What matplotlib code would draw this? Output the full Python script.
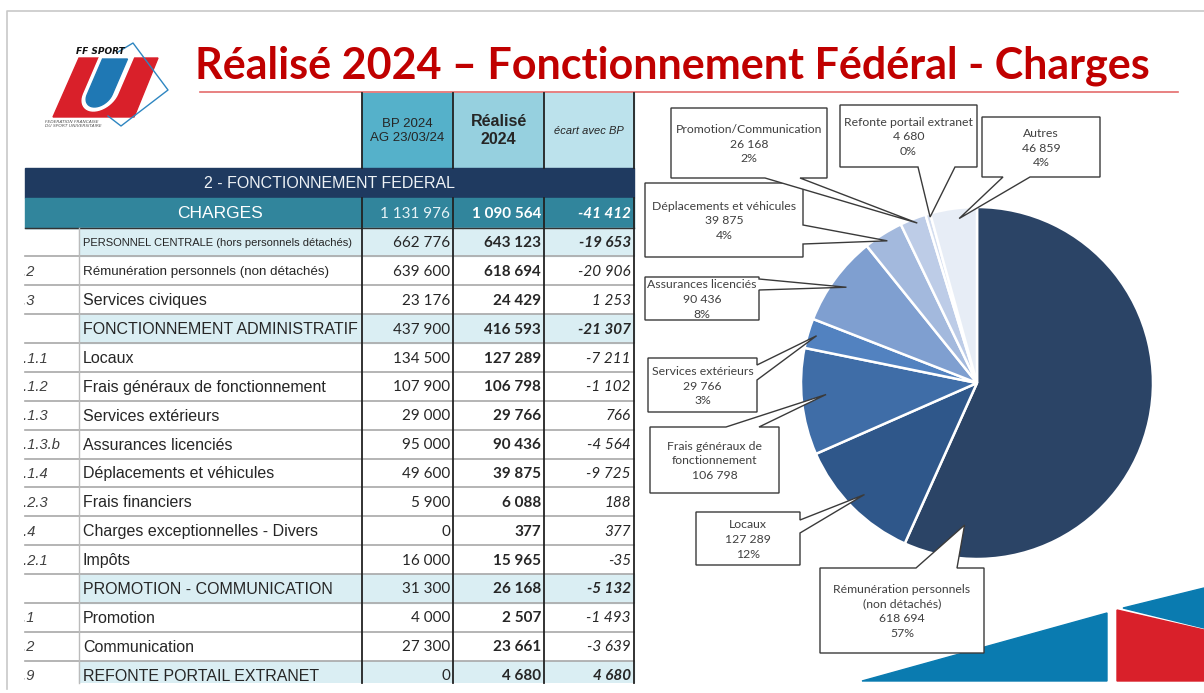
import matplotlib.pyplot as plt
from matplotlib.patches import Rectangle, Polygon
from matplotlib.transforms import Bbox
import numpy as np

W, H = 1204, 693

# ---- table data ----
row_labels = ["PERSONNEL CENTRALE (hors personnels détachés)",
              "Rémunération personnels (non détachés)",
              "Services civiques",
              "FONCTIONNEMENT ADMINISTRATIF",
              "Locaux",
              "Frais généraux de fonctionnement",
              "Services extérieurs",
              "Assurances licenciés",
              "Déplacements et véhicules",
              "Frais financiers",
              "Charges exceptionnelles - Divers",
              "Impôts",
              "PROMOTION - COMMUNICATION",
              "Promotion",
              "Communication",
              "REFONTE PORTAIL EXTRANET"]
row_codes = ["", "1.2", "1.3", "", "2.1.1", "2.1.2", "2.1.3", "2.1.3.b", "2.1.4",
             "2.2.3", "2.4", "2.2.1", "", "3.1", "3.2", "3.9"]
row_section = [True, False, False, True, False, False, False, False, False,
               False, False, False, True, False, False, True]
bp_2024 = [662776, 639600, 23176, 437900, 134500, 107900, 29000, 95000, 49600,
           5900, 0, 16000, 31300, 4000, 27300, 0]
realise_2024 = [643123, 618694, 24429, 416593, 127289, 106798, 29766, 90436, 39875,
                6088, 377, 15965, 26168, 2507, 23661, 4680]
charges_bp = 1131976
charges_realise = 1090564

# ---- pie data ----
pie_labels = ["Rémunération personnels\n(non détachés)", "Locaux",
              "Frais généraux de\nfonctionnement", "Services extérieurs",
              "Assurances licenciés", "Déplacements et véhicules",
              "Promotion/Communication", "Refonte portail extranet", "Autres"]
pie_values = [618694, 127289, 106798, 29766, 90436, 39875, 26168, 4680, 46859]
pie_colors = ["#2B4466", "#2F578A", "#3F6DA7", "#5282C0", "#7F9FD0",
              "#A3B9DD", "#BDCCE7", "#D3DDEF", "#E7EDF6"]


def fmt(v):
    return f"{v:,}".replace(",", " ")


fig = plt.figure(figsize=(W / 100, H / 100), dpi=100)
ax = fig.add_axes([0, 0, 1, 1])
ax.set_xlim(0, W)
ax.set_ylim(H, 0)
ax.axis("off")

# slide frame
ax.plot([7, 7, W], [689, 11, 11], color="#C8C8C8", lw=1.2)

# ---- title ----
ax.text(672, 78, "Réalisé 2024 – Fonctionnement Fédéral - Charges", ha="center",
        va="baseline", fontsize=31, fontweight="bold", family="Lato", color="#C00000")
ax.plot([200, 1178], [92, 92], color="#E46C6C", lw=1.2)


# ---- logo ----
def u_shape(xc, ytop, ybot, w, skew, n=24):
    rr = w / 2
    yc = ybot - rr
    pts = [(xc - rr, ytop)]
    for a in np.linspace(np.pi, 0, n):
        pts.append((xc + rr * np.cos(a), yc + rr * np.sin(a)))
    pts.append((xc + rr, ytop))
    return [(x - skew * (y - ytop), y) for x, y in pts]


ax.plot([118, 133, 168, 121, 108], [52, 43, 90, 126, 116], color="#2E86C1", lw=1)
ax.add_patch(Polygon([(79, 58), (158, 58), (134, 117), (53, 117)], color="#D9202A"))
ax.add_patch(Polygon(u_shape(117, 56, 111, 34, 0.43), color="white"))
ax.add_patch(Polygon(u_shape(115, 59, 107, 25, 0.43), color="#1F78B4"))
ax.text(100, 54, "FF SPORT", ha="center", va="baseline", fontsize=6.5,
        fontweight="bold", style="italic", color="#111111")
ax.text(45, 124, "FEDERATION FRANCAISE\nDU SPORT UNIVERSITAIRE", ha="left",
        va="center", fontsize=3.2, style="italic", color="#555555", linespacing=1.0)

# ---- table ----
x_code, x_lab, x_bp, x_re, x_ec, x_end = 25, 79, 362, 453, 544, 634
y_head, y_navy, y_chg, y_row0 = 93, 168, 198, 227.6
rh = 28.87
y_bot = 683
num_font = "Lato"
txt_font = "Liberation Sans"
dark = "#262626"

clip = Rectangle((0, 0), W, y_bot, transform=ax.transData)

ax.add_patch(Rectangle((x_bp, y_head), x_re - x_bp, y_navy - y_head, color="#55B1CA"))
ax.add_patch(Rectangle((x_re, y_head), x_ec - x_re, y_navy - y_head, color="#96D0DF"))
ax.add_patch(Rectangle((x_ec, y_head), x_end - x_ec, y_navy - y_head, color="#BCE2EC"))
ax.text((x_bp + x_re) / 2, 131, "BP 2024\nAG 23/03/24", ha="center", va="center",
        fontsize=9.5, family=txt_font, color=dark, linespacing=1.3)
ax.text((x_re + x_ec) / 2, 131, "Réalisé\n2024", ha="center", va="center",
        fontsize=11.5, fontweight="bold", family=txt_font, color=dark, linespacing=1.25)
ax.text((x_ec + x_end) / 2, 131, "écart avec BP", ha="center", va="center",
        fontsize=8, style="italic", family=txt_font, color=dark)

ax.add_patch(Rectangle((x_code, y_navy), x_end - x_code, y_chg - y_navy, color="#1F3A60"))
ax.text(330, (y_navy + y_chg) / 2 + 1, "2 - FONCTIONNEMENT FEDERAL", ha="center",
        va="center", fontsize=11.5, family=txt_font, color="#EEF2F6")
ax.add_patch(Rectangle((x_code, y_chg), x_end - x_code, y_row0 - y_chg, color="#31859C"))
ax.text((x_lab + x_bp) / 2, (y_chg + y_row0) / 2 + 1, "CHARGES", ha="center",
        va="center", fontsize=12.5, family=txt_font, color="white")
yc = (y_chg + y_row0) / 2 + 1
ax.text(x_re - 3, yc, fmt(charges_bp), ha="right", va="center", fontsize=11,
        family=num_font, color="#E6F3F7")
ax.text(x_ec - 3, yc, fmt(charges_realise), ha="right", va="center", fontsize=11,
        family=num_font, fontweight="bold", color="white")
ax.text(x_end - 3, yc, fmt(charges_realise - charges_bp), ha="right", va="center",
        fontsize=11, family=num_font, fontweight="bold", style="italic", color="white")

for i, lab in enumerate(row_labels):
    top = y_row0 + i * rh
    yc = top + rh / 2 + 1
    if row_section[i]:
        p = ax.add_patch(Rectangle((x_lab, top), x_end - x_lab, rh, color="#DAEEF3"))
        p.set_clip_path(clip)
    if i == 0:
        fs = 8
    elif i == 1:
        fs = 9.6
    else:
        fs = 11.5
    ax.text(x_lab + 4, yc, lab, ha="left", va="center", fontsize=fs,
            family=txt_font, color=dark)
    if row_codes[i]:
        t = ax.text(15, yc, row_codes[i], ha="left", va="center", fontsize=10.5,
                    family=txt_font, style="italic", color="#404040")
        t.set_clip_box(Bbox.from_extents(24, 0, 78, H))
        t.set_clip_on(True)
    ec = realise_2024[i] - bp_2024[i]
    ax.text(x_re - 3, yc, fmt(bp_2024[i]), ha="right", va="center", fontsize=11,
            family=num_font, color=dark)
    ax.text(x_ec - 3, yc, fmt(realise_2024[i]), ha="right", va="center", fontsize=11,
            family=num_font, fontweight="bold", color=dark)
    ax.text(x_end - 3, yc, fmt(ec), ha="right", va="center", fontsize=11,
            family=num_font, style="italic",
            fontweight="bold" if row_section[i] else "normal", color=dark)
    if i > 0:
        ax.plot([x_code, x_end], [top, top], color="#A8A8A8", lw=1.2)

ax.plot([x_code, x_end], [y_row0, y_row0], color="#333333", lw=1)
ax.plot([x_lab, x_lab], [y_row0, y_bot], color="#BBBBBB", lw=1)
for xv in (x_bp, x_re, x_ec, x_end):
    ax.plot([xv, xv], [y_head, y_navy], color="#222222", lw=1.3)
    ax.plot([xv, xv], [y_chg, y_bot], color="#222222", lw=1.3)

# ---- decoration bottom right ----
ax.add_patch(Polygon([(862, 681), (1107, 613), (1107, 681)], color="#0A7BB0", zorder=5))
ax.add_patch(Polygon([(1117, 610), (1204, 630), (1204, 681), (1117, 681)],
                     color="#D9202A", zorder=5))
ax.add_patch(Polygon([(1123, 608), (1204, 588), (1204, 628)], color="#0A7BB0", zorder=5))

# ---- pie ----
cx, cy, r = 977, 383, 176
axp = fig.add_axes([(cx - r) / W, (H - cy - r) / H, 2 * r / W, 2 * r / H])
axp.pie(pie_values, colors=pie_colors, startangle=90, counterclock=False,
        wedgeprops=dict(edgecolor="white", linewidth=1.8))
axp.set_xlim(-1, 1)
axp.set_ylim(-1, 1)

# ---- callouts ----
axo = fig.add_axes([0, 0, 1, 1])
axo.set_xlim(0, W)
axo.set_ylim(H, 0)
axo.axis("off")

boxes = [(820, 568, 984, 653, "top", 916, 957),
         (696, 512, 800, 565, "right", 520, 533),
         (650, 427, 779, 493, "top", 726, 759),
         (648, 358, 757, 412, "right", 365, 380),
         (645, 277, 759, 320, "right", 279, 290),
         (645, 183, 803, 257, "right", 225, 244),
         (671, 108, 827, 178, "bottom", 765, 800),
         (840, 105, 977, 167, "bottom", 918, 955),
         (982, 117, 1100, 177, "bottom", 1003, 1030)]
tip_pos = [(0.51, 0.81), (0.5, 0.90), (0.55, 0.86), (0.5, 0.95), (0.5, 0.92),
           (0.5, 0.955), (0.6, 0.97), (0.8, 0.98), (0.6, 0.94)]
show_pct = [True, True, False, True, True, True, True, True, True]

total = sum(pie_values)
cum = 0
for i, v in enumerate(pie_values):
    x0, y0, x1, y1, side, b0, b1 = boxes[i]
    f, rf = tip_pos[i]
    if i == 0:
        a = np.radians(185)
    else:
        a = np.radians((cum + f * v) / total * 360)
    cum += v
    tip = (cx + rf * r * np.sin(a), cy - rf * r * np.cos(a))
    if side == "top":
        pts = [(x0, y0), (b0, y0), tip, (b1, y0), (x1, y0), (x1, y1), (x0, y1)]
    elif side == "right":
        pts = [(x0, y0), (x1, y0), (x1, b0), tip, (x1, b1), (x1, y1), (x0, y1)]
    else:
        pts = [(x0, y0), (x1, y0), (x1, y1), (b1, y1), tip, (b0, y1), (x0, y1)]
    axo.add_patch(Polygon(pts, closed=True, facecolor="white", edgecolor="#3A3A3A",
                          lw=1.0, joinstyle="miter"))
    txt = pie_labels[i] + "\n" + fmt(v)
    if show_pct[i]:
        txt += f"\n{round(v / total * 100)}%"
    axo.text((x0 + x1) / 2, (y0 + y1) / 2 + 1, txt, ha="center", va="center",
             fontsize=8.8, family="Lato", color="#404040", linespacing=1.42)

fig.savefig("out.png", dpi=100)
